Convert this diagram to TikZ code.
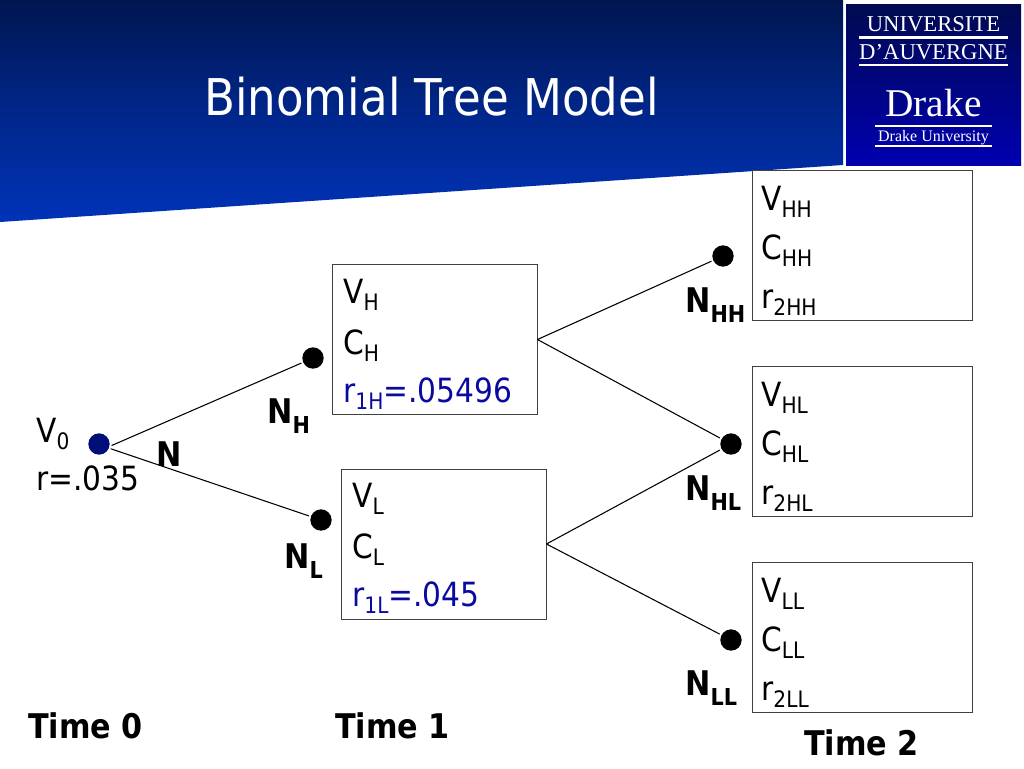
\documentclass[tikz,border=0pt]{standalone}
\usepackage{fontspec}
\setmainfont[FakeStretch=0.89]{DejaVu Sans}
\newfontfamily\logofont{Liberation Serif}
\usetikzlibrary{calc}
\definecolor{bannertop}{HTML}{001650}
\definecolor{bannerbot}{HTML}{0033B8}
\definecolor{logotop}{HTML}{000A50}
\definecolor{logobot}{HTML}{0000B0}
\definecolor{dotblue}{HTML}{000F78}
\definecolor{rateblue}{HTML}{0A0AA0}
\newcommand{\lsub}[1]{\raisebox{-0.23em}{\fontsize{17}{18}\selectfont #1}}
\newcommand{\bsub}[1]{\raisebox{-0.3em}{\fontsize{17.5}{18}\selectfont #1}}
\tikzset{
  databox/.style={draw=black!75,line width=0.7pt,fill=white,minimum width=#1,minimum height=112.5pt,inner sep=0pt},
  datatext/.style={anchor=base west,inner sep=0pt,font=\fontsize{25}{28}\selectfont},
  boldlabel/.style={anchor=base west,inner sep=0pt,font=\fontsize{25.5}{28}\selectfont\bfseries},
  timelabel/.style={anchor=base west,inner sep=0pt,font=\fontsize{25.5}{28}\selectfont\bfseries},
  treedot/.style={circle,fill=black,minimum size=16pt,inner sep=0pt,outer sep=1.5pt},
  link/.style={draw=black,line width=0.8pt},
  logotext/.style={text=white,inner sep=0pt,anchor=base,font=\logofont},
  logorule/.style={draw=white,line width=1.9pt}
}
\begin{document}
\begin{tikzpicture}[x=0.75pt,y=-0.75pt]
\useasboundingbox (0,0) rectangle (1024,768);
\fill[white] (0,0) rectangle (1024,768);
% banner
\begin{scope}
\clip (0,0) -- (843,0) -- (843,165) -- (0,222) -- cycle;
\shade[top color=bannertop,bottom color=bannerbot,middle color=bannertop!45!bannerbot] (0,0) rectangle (843,222);
\end{scope}
\node[anchor=base west,inner sep=0pt,text=white,font=\fontsize{38}{42}\selectfont] (title) at (204,115) {Binomial Tree Model};
% logo
\shade[top color=logotop,bottom color=logobot] (846,4) rectangle (1021,165);
\node[logotext,font=\logofont\fontsize{17}{18}\selectfont] (univ) at (933.5,31) {UNIVERSITE};
\draw[logorule] (859,37.5) -- (1008,37.5);
\node[logotext,font=\logofont\fontsize{17}{18}\selectfont] (auv) at (933.5,59) {D’AUVERGNE};
\draw[logorule] (859,65) -- (1008,65);
\node[logotext,font=\logofont\fontsize{29.5}{30}\selectfont] (drake) at (933.5,116) {Drake};
\draw[logorule] (875,126) -- (992,126);
\node[logotext,font=\logofont\fontsize{12}{13}\selectfont] (du) at (933.5,141) {Drake University};
\draw[logorule] (875,146) -- (992,146);
% boxes
\node[databox=153.75pt] (bh) at (434.5,339.5) {};
\node[databox=153.75pt] (bl) at (443.5,544) {};
\node[databox=165pt] (bhh) at (862,245.5) {};
\node[databox=165pt] (bhl) at (862,441.5) {};
\node[databox=165pt] (bll) at (862,637.5) {};
% dots
\node[treedot,fill=dotblue] (v0) at (99,444) {};
\node[treedot] (nh) at (313,358) {};
\node[treedot] (nl) at (321,520) {};
\node[treedot] (nhh) at (723,256) {};
\node[treedot] (nhl) at (731,444) {};
\node[treedot] (nll) at (731,640) {};
% connectors
\draw[link] (v0.-7) -- (nh);
\draw[link] (v0.-22) -- (nl);
\draw[link] (bh.east) -- (nhh);
\draw[link] (bh.east) -- (nhl);
\draw[link] (bl.east) -- (nhl);
\draw[link] (bl.east) -- (nll);
% V0
\node[datatext] (tv0) at (36,442) {V\lsub{0}};
\node[datatext] (tr0) at (36,490) {r=.035};
% box H
\node[datatext] (t1) at (343,303) {V\lsub{H}};
\node[datatext] (t2) at (343,354) {C\lsub{H}};
\node[datatext,text=rateblue] (t3) at (343,402) {r\lsub{1H}=.05496};
% box L
\node[datatext] (t4) at (352,507) {V\lsub{L}};
\node[datatext] (t5) at (352,558) {C\lsub{L}};
\node[datatext,text=rateblue] (t6) at (352,606) {r\lsub{1L}=.045};
% box HH
\node[datatext] (t7) at (761,210) {V\lsub{HH}};
\node[datatext] (t8) at (761,259) {C\lsub{HH}};
\node[datatext] (t9) at (761,308) {r\lsub{2HH}};
% box HL
\node[datatext] (t10) at (761,406) {V\lsub{HL}};
\node[datatext] (t11) at (761,455) {C\lsub{HL}};
\node[datatext] (t12) at (761,504) {r\lsub{2HL}};
% box LL
\node[datatext] (t13) at (761,602) {V\lsub{LL}};
\node[datatext] (t14) at (761,651) {C\lsub{LL}};
\node[datatext] (t15) at (761,700) {r\lsub{2LL}};
% bold labels
\node[boldlabel] (ln) at (156,466) {N};
\node[boldlabel] (lnh) at (267,423) {N\bsub{H}};
\node[boldlabel] (lnl) at (284,568) {N\bsub{L}};
\node[boldlabel] (lnhh) at (685,312) {N\bsub{HH}};
\node[boldlabel] (lnhl) at (685,500) {N\bsub{HL}};
\node[boldlabel] (lnll) at (685,695) {N\bsub{LL}};
% times
\node[timelabel] (t0) at (28,738) {Time 0};
\node[timelabel] (t1l) at (335,738) {Time 1};
\node[timelabel] (t2l) at (804,755) {Time 2};
\end{tikzpicture}
\end{document}
